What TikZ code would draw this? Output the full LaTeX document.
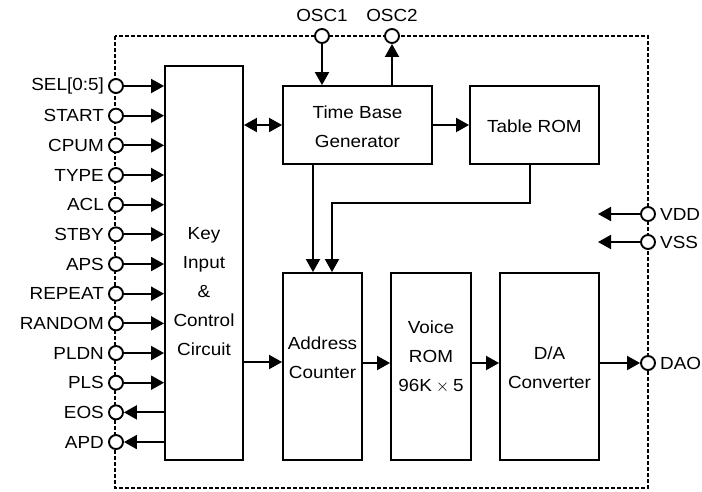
\documentclass[tikz,border=0pt]{standalone}
\usepackage{fontspec}
\setmainfont[FakeStretch=1.08]{Liberation Sans}
\usetikzlibrary{arrows.meta,positioning,calc}
\begin{document}
\begin{tikzpicture}[x=1pt,y=-1pt,
  blk/.style={draw, line width=1.9pt, inner sep=0pt},
  txt/.style={font=\fontsize{17.5}{29}\selectfont, align=center, inner sep=0pt},
  lbl/.style={font=\fontsize{17.5}{20}\selectfont, inner sep=0pt},
  pinc/.style={circle, draw, fill=white, line width=1.9pt, minimum size=14pt, inner sep=0pt},
  arr/.style={line width=2pt, -{Triangle[length=13pt,width=14pt]}},
  darr/.style={line width=2pt, {Triangle[length=13pt,width=14pt]}-{Triangle[length=13pt,width=14pt]}},
  border/.style={line width=1.4pt, dash pattern=on 4pt off 2pt}]
\useasboundingbox (0,0) rectangle (702,491);

% dashed chip outline
\draw[border] (115,36) rectangle (648,488);

% blocks
\node[blk, minimum width=78pt, minimum height=394pt] (key) at (204,263) {};
\node[txt] (keyt) at (204,292) {Key\\Input\\\&\\Control\\Circuit};
\node[blk, minimum width=149pt, minimum height=78pt] (tbg) at (357.5,125) {};
\node[txt] (tbgt) at (357.5,126.5) {Time Base\\Generator};
\node[blk, minimum width=129pt, minimum height=78pt] (trom) at (534.5,125) {};
\node[txt] (tromt) at (534.5,126) {Table ROM};
\node[blk, minimum width=79pt, minimum height=187pt] (addr) at (322.5,366.5) {};
\node[txt] (addrt) at (322.5,357.5) {Address\\Counter};
\node[blk, minimum width=80pt, minimum height=187pt] (vrom) at (431,366.5) {};
\node[txt] (vromt) at (431,357) {Voice\\ROM\\96K${}\times{}$5};
\node[blk, minimum width=99pt, minimum height=187pt] (dac) at (549.5,366.5) {};
\node[txt] (dact) at (549.5,368) {D/A\\Converter};

% left pins
\foreach \i/\name/\t in {0/sel/SEL[0:5],1/start/START,2/cpum/CPUM,3/type/TYPE,4/acl/ACL,5/stby/STBY,6/aps/APS,7/repeat/REPEAT,8/random/RANDOM,9/pldn/PLDN,10/pls/PLS,11/eos/EOS,12/apd/APD}{
  \node[pinc] (p\name) at (116,{86+29.67*\i}) {};
  \node[lbl, left=4pt of p\name] (l\name) {\t};
}
\foreach \name in {sel,start,cpum,type,acl,stby,aps,repeat,random,pldn,pls}{
  \draw[arr] (p\name.east) -- (key.west |- p\name);
}
\foreach \name in {eos,apd}{
  \draw[arr] (key.west |- p\name) -- (p\name.east);
}

% top pins
\node[pinc] (posc1) at (322,36) {};
\node[lbl, above=6pt of posc1] (losc1) {OSC1};
\node[pinc] (posc2) at (392,36) {};
\node[lbl, above=6pt of posc2] (losc2) {OSC2};
\draw[arr] (posc1.south) -- (tbg.north -| posc1);
\draw[arr] (tbg.north -| posc2) -- (posc2.south);

% right pins
\node[pinc] (pvdd) at (648,214) {};
\node[lbl, right=4pt of pvdd] (lvdd) {VDD};
\node[pinc] (pvss) at (648,242) {};
\node[lbl, right=4pt of pvss] (lvss) {VSS};
\node[pinc] (pdao) at (648,363) {};
\node[lbl, right=4pt of pdao] (ldao) {DAO};
\coordinate (evdd) at (598,214);
\coordinate (evss) at (598,242);
\draw[arr] (pvdd.west) -- (evdd);
\draw[arr] (pvss.west) -- (evss);

% internal connections
\draw[darr] (key.east |- tbg) -- (tbg.west);
\draw[arr] (tbg.east) -- (trom.west);
\coordinate (ca) at (313,0);
\coordinate (cb) at (332,203);
\coordinate (cc) at (530,0);
\draw[arr] (tbg.south -| ca) -- (addr.north -| ca);
\draw[arr] (trom.south -| cc) |- (cb) -- (addr.north -| cb);
\draw[arr] (key.east |- 0,362) -- (addr.west |- 0,362);
\draw[arr] (addr.east |- 0,363) -- (vrom.west |- 0,363);
\draw[arr] (vrom.east |- 0,363) -- (dac.west |- 0,363);
\draw[arr] (dac.east |- pdao) -- (pdao.west);
\end{tikzpicture}
\end{document}
